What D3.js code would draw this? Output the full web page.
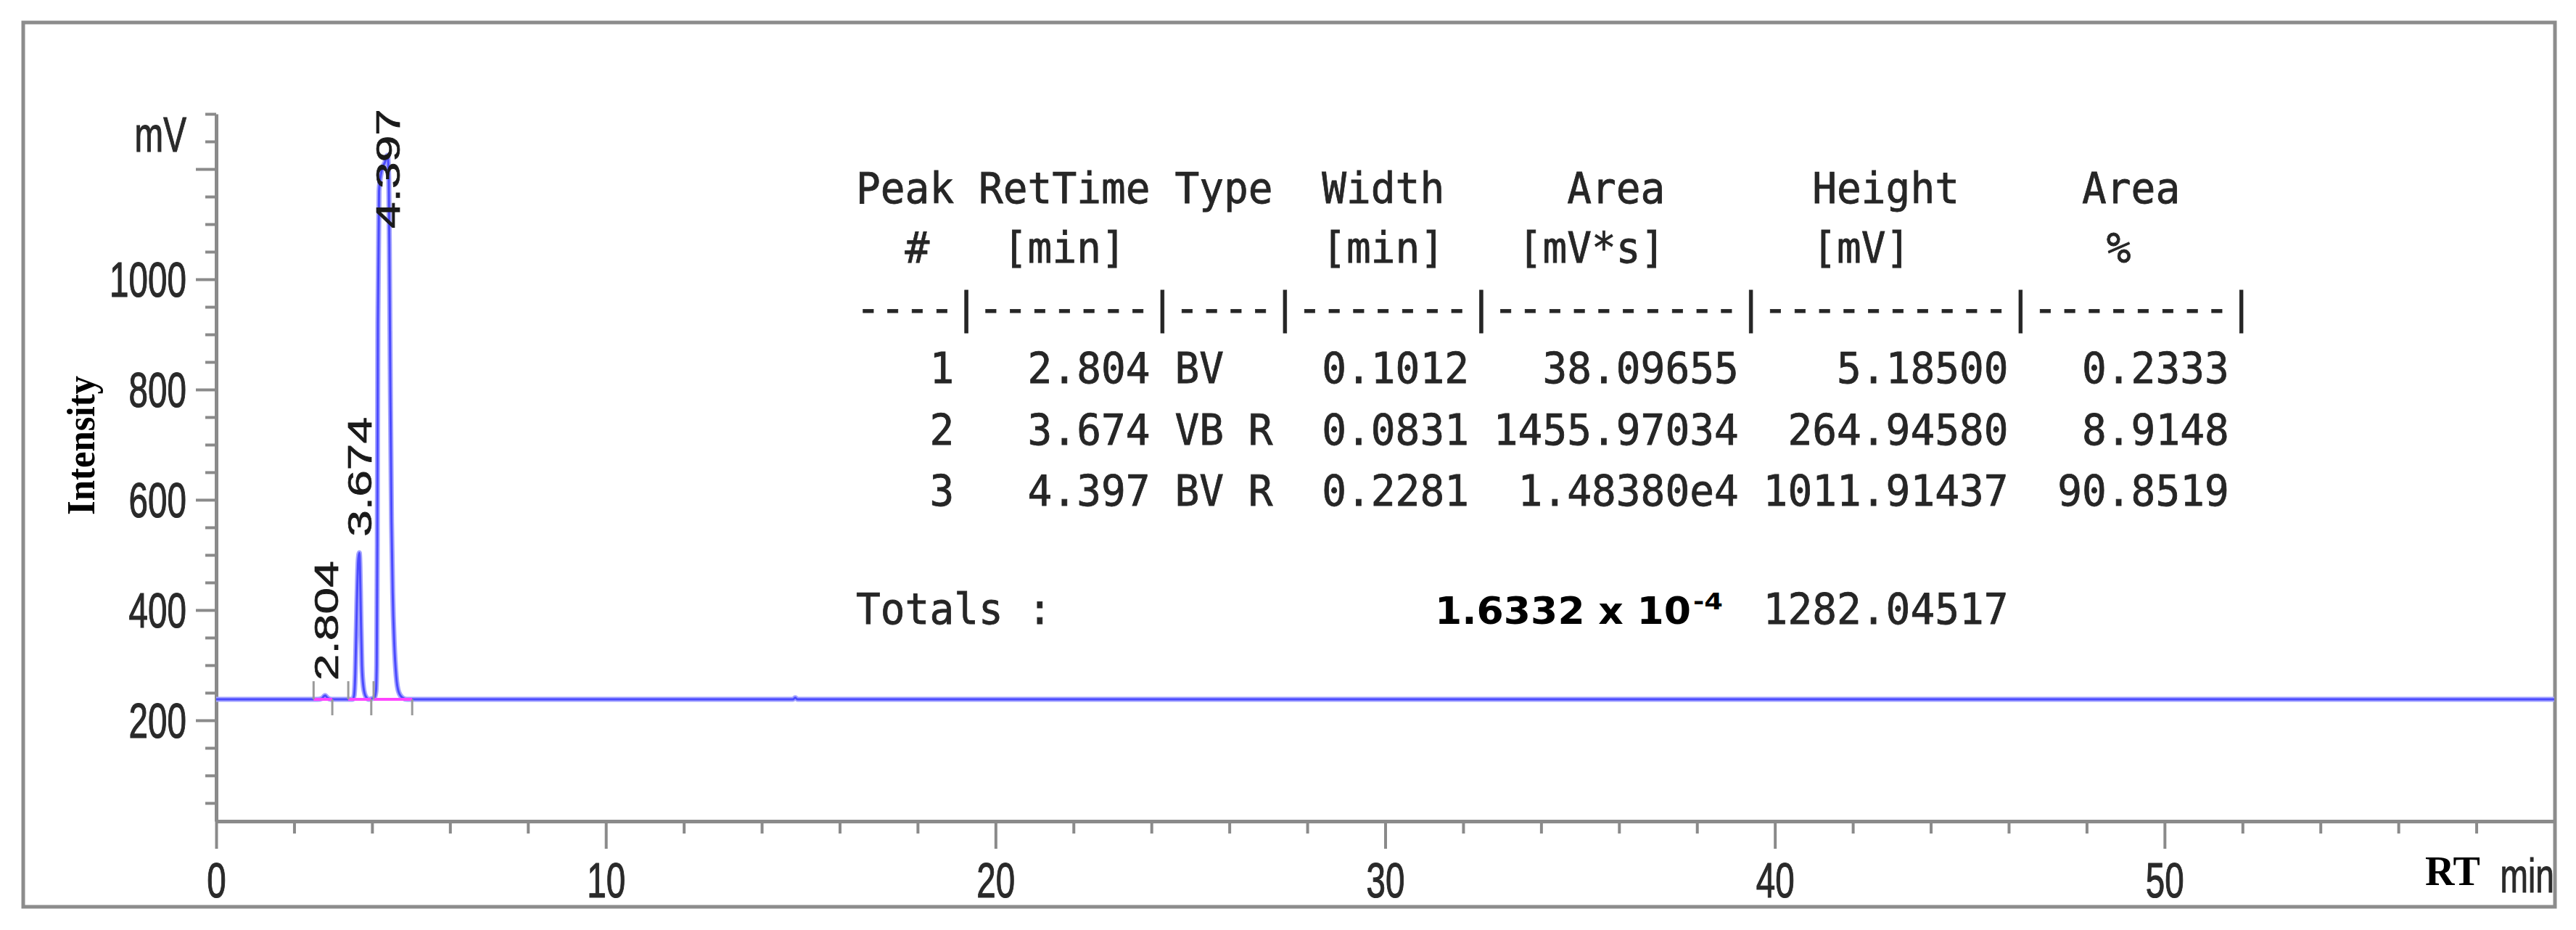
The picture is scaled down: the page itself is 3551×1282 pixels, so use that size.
<!DOCTYPE html>
<html><head><meta charset="utf-8">
<script src="https://cdn.jsdelivr.net/npm/d3@7"></script>
<style>html,body{margin:0;padding:0;background:#fff;} svg{display:block;}</style>
</head><body>
<svg id="chart" width="3551" height="1282"></svg>
<script>
// ---------------- data ----------------
const yMajorTicks = [200, 400, 600, 800, 1000, 1200];
const yMajorLabels = ["200", "400", "600", "800", "1000", ""];
const xMajorTicks = [0, 10, 20, 30, 40, 50];
const xMajorLabels = ["0", "10", "20", "30", "40", "50"];

// chromatogram trace (time in min, signal in mV)
const signalTime = [0, 2.60, 2.72, 2.77, 2.80, 2.84, 2.90, 3.00, 3.50, 3.54, 3.57, 3.61, 3.645, 3.674, 3.69, 3.71, 3.74, 3.78, 3.84, 3.92, 3.98,
  4.06, 4.10, 4.12, 4.135, 4.15, 4.18, 4.25, 4.33, 4.397, 4.43, 4.45, 4.47, 4.50, 4.53, 4.57, 4.62, 4.68, 4.78, 4.90,
  14.80, 14.86, 14.92, 60];
const signalMV = [238, 238, 240, 244, 245, 242, 239, 238, 238, 245, 285, 410, 490, 504, 480, 400, 300, 260, 243, 238, 239,
  241, 252, 300, 520, 920, 1160, 1198, 1212, 1225, 1180, 1000, 800, 560, 430, 340, 280, 252, 241, 238,
  238, 241, 238, 238];
const baselineMV = 238;

const peakNum = [1, 2, 3];
const peakRetTime = [2.804, 3.674, 4.397];
const peakType = ["BV", "VB R", "BV R"];
const peakWidth = [0.1012, 0.0831, 0.2281];
const peakArea = [38.09655, 1455.97034, 14838.0];
const peakHeight = [5.18500, 264.94580, 1011.91437];
const peakAreaPct = [0.2333, 8.9148, 90.8519];
const peakStart = [2.50, 3.39, 4.04];
const peakEnd = [2.98, 3.98, 5.03];
const peakLabelAt = [272, 533, 1092];

const totalAreaText = "1.6332 x 10";
const totalAreaExp = "-4";
const totalHeight = 1282.04517;

// ---------------- drawing ----------------
const svg = d3.select("#chart");
const x = d3.scaleLinear([0, 60], [298, 3521]);
const y = d3.scaleLinear([17, 1300], [1132, 157]);
const SX = 0.7;
const axisColor = "#8a8a8a";
const labelFont = "'Liberation Sans', Arial, sans-serif";

svg.append("rect").attr("width", 3551).attr("height", 1282).attr("fill", "#fff");
// outer frame
svg.append("rect").attr("x", 32).attr("y", 31).attr("width", 3490).attr("height", 1219)
  .attr("fill", "none").attr("stroke", "#8c8c8c").attr("stroke-width", 5);

// ---- Y axis ----
const yMinor = d3.range(50, 1301, 50).filter(v => v % 200 !== 0);
const gyMinor = svg.append("g").attr("transform", "translate(298,0)")
  .call(d3.axisLeft(y).tickValues(yMinor).tickSize(15).tickSizeOuter(0).tickFormat(""));
const gyMajor = svg.append("g").attr("transform", "translate(298,0)")
  .call(d3.axisLeft(y).tickValues(yMajorTicks).tickSize(28).tickSizeOuter(0)
    .tickFormat((d, i) => yMajorLabels[i]));
gyMinor.select(".domain").remove();
gyMajor.select(".domain").attr("stroke", axisColor).attr("stroke-width", 5);
[gyMinor, gyMajor].forEach(g => g.selectAll(".tick line").attr("stroke", axisColor).attr("stroke-width", 4));
gyMajor.selectAll(".tick text")
  .attr("x", -41 / SX).attr("dy", "0.35em").attr("transform", `scale(${SX},1)`)
  .attr("font-family", labelFont).attr("font-size", 68).attr("fill", "#2a2a2a")
  .attr("stroke", "#2a2a2a").attr("stroke-width", 1.2).attr("text-anchor", "end");

// ---- X axis ----
const xMinor = d3.range(2, 60, 2).filter(v => v % 10 !== 0);
const gxMinor = svg.append("g").attr("transform", `translate(0,${y(17)})`)
  .call(d3.axisBottom(x).tickValues(xMinor).tickSize(17).tickSizeOuter(0).tickFormat(""));
const gxMajor = svg.append("g").attr("transform", `translate(0,${y(17)})`)
  .call(d3.axisBottom(x).tickValues(xMajorTicks).tickSize(38).tickSizeOuter(0)
    .tickFormat((d, i) => xMajorLabels[i]));
gxMinor.select(".domain").remove();
gxMajor.select(".domain").attr("stroke", axisColor).attr("stroke-width", 5);
[gxMinor, gxMajor].forEach(g => g.selectAll(".tick line").attr("stroke", axisColor).attr("stroke-width", 4));
gxMajor.selectAll(".tick text")
  .attr("y", 105).attr("dy", null).attr("transform", `scale(${SX},1)`)
  .attr("font-family", labelFont).attr("font-size", 68).attr("fill", "#2a2a2a")
  .attr("stroke", "#2a2a2a").attr("stroke-width", 1.2).attr("text-anchor", "middle");

// axis titles
svg.append("text").attr("transform", `translate(257,209) scale(${SX},1)`)
  .attr("text-anchor", "end").attr("font-family", labelFont).attr("font-size", 68).attr("fill", "#2a2a2a")
  .attr("stroke", "#2a2a2a").attr("stroke-width", 1.2).text("mV");
svg.append("text").attr("transform", "translate(130,614) rotate(-90)")
  .attr("text-anchor", "middle").attr("font-family", "'Liberation Serif', 'Times New Roman', serif")
  .attr("font-weight", "bold").attr("font-size", 54).attr("textLength", 192).attr("lengthAdjust", "spacingAndGlyphs")
  .attr("fill", "#000").text("Intensity");
svg.append("text").attr("x", 3343).attr("y", 1220)
  .attr("font-family", "'Liberation Serif', 'Times New Roman', serif").attr("font-weight", "bold")
  .attr("font-size", 56).attr("fill", "#000").text("RT");
svg.append("text").attr("transform", `translate(3521,1230) scale(${SX},1)`)
  .attr("text-anchor", "end").attr("font-family", labelFont).attr("font-size", 66).attr("fill", "#2a2a2a")
  .attr("stroke", "#2a2a2a").attr("stroke-width", 1).text("min");

// ---- trace ----
const trace = signalTime.map((t, i) => [t, signalMV[i]]);
const line = d3.line().x(d => x(d[0])).y(d => y(d[1])).curve(d3.curveMonotoneX);
svg.append("path").datum(trace).attr("d", line).attr("fill", "none")
  .attr("stroke", "#a4a4ff").attr("stroke-width", 7).attr("stroke-linejoin", "round");
svg.append("path").datum(trace).attr("d", line).attr("fill", "none")
  .attr("stroke", "#4b4bff").attr("stroke-width", 3).attr("stroke-linejoin", "round");

// integration baselines
svg.append("g").selectAll("line").data(peakStart).join("line")
  .attr("x1", (d) => x(d)).attr("x2", (d, i) => x(peakEnd[i]))
  .attr("y1", y(baselineMV)).attr("y2", y(baselineMV))
  .attr("stroke", "#ff44ff").attr("stroke-width", 4);
// peak start / end markers
svg.append("g").selectAll("line").data(peakStart).join("line")
  .attr("x1", d => x(d)).attr("x2", d => x(d))
  .attr("y1", y(baselineMV) - 25).attr("y2", y(baselineMV))
  .attr("stroke", "#9a9a9a").attr("stroke-width", 3);
svg.append("g").selectAll("line").data(peakEnd).join("line")
  .attr("x1", d => x(d)).attr("x2", d => x(d))
  .attr("y1", y(baselineMV)).attr("y2", y(baselineMV) + 22)
  .attr("stroke", "#9a9a9a").attr("stroke-width", 3);

// peak labels
svg.append("g").selectAll("text").data(peakRetTime).join("text")
  .attr("transform", (d, i) => `translate(${x(d) + 17},${y(peakLabelAt[i])}) scale(${SX},1) rotate(-90)`)
  .attr("font-family", labelFont).attr("font-size", 66).attr("fill", "#1a1a1a")
  .attr("stroke", "#1a1a1a").attr("stroke-width", 1)
  .text(d => d.toFixed(3));

// ---- results table ----
const X0 = 1180, CW = 33.8;
const tbl = svg.append("g").attr("font-family", "'DejaVu Sans Mono', monospace")
  .attr("font-size", 59).attr("fill", "#262626").attr("stroke", "#262626").attr("stroke-width", 0.8);
function placeTokens(str, yBase) {
  const re = /\S+/g; let m;
  while ((m = re.exec(str)) !== null) {
    tbl.append("text").attr("x", X0 + m.index * CW).attr("y", yBase)
      .attr("textLength", m[0].length * CW).attr("lengthAdjust", "spacingAndGlyphs").text(m[0]);
  }
}
function blank(n) { return Array(n).fill(" "); }
function putRight(arr, s, endCol) { for (let k = 0; k < s.length; k++) arr[endCol - s.length + 1 + k] = s[k]; }
function putLeft(arr, s, startCol) { for (let k = 0; k < s.length; k++) arr[startCol + k] = s[k]; }

placeTokens("Peak RetTime Type  Width     Area      Height     Area", 280);
placeTokens("  #   [min]        [min]   [mV*s]      [mV]        %", 362);
placeTokens("----|-------|----|-------|----------|----------|--------|", 445);

const rowY = [528, 613, 697];
peakNum.forEach((n, i) => {
  const a = blank(57);
  putRight(a, String(n), 3);
  putRight(a, peakRetTime[i].toFixed(3), 11);
  putLeft(a, peakType[i], 13);
  putRight(a, peakWidth[i].toFixed(4), 24);
  const ar = peakArea[i] >= 1e4 ? peakArea[i].toExponential(5).replace("+", "") : peakArea[i].toFixed(5);
  putRight(a, ar, 35);
  putRight(a, peakHeight[i].toFixed(5), 46);
  putRight(a, peakAreaPct[i].toFixed(4), 55);
  placeTokens(a.join(""), rowY[i]);
});
const tot = blank(57);
putLeft(tot, "Totals :", 0);
putRight(tot, totalHeight.toFixed(5), 46);
placeTokens(tot.join(""), 860);

svg.append("text").attr("x", 1978).attr("y", 860)
  .attr("font-family", "'DejaVu Sans', sans-serif").attr("font-weight", "bold").attr("font-size", 51)
  .attr("textLength", 353).attr("lengthAdjust", "spacingAndGlyphs").attr("fill", "#000").text(totalAreaText);
svg.append("text").attr("x", 2334).attr("y", 840)
  .attr("font-family", "'DejaVu Sans', sans-serif").attr("font-weight", "bold").attr("font-size", 32)
  .attr("textLength", 41).attr("lengthAdjust", "spacingAndGlyphs").attr("fill", "#000").text(totalAreaExp);
</script>
</body></html>
